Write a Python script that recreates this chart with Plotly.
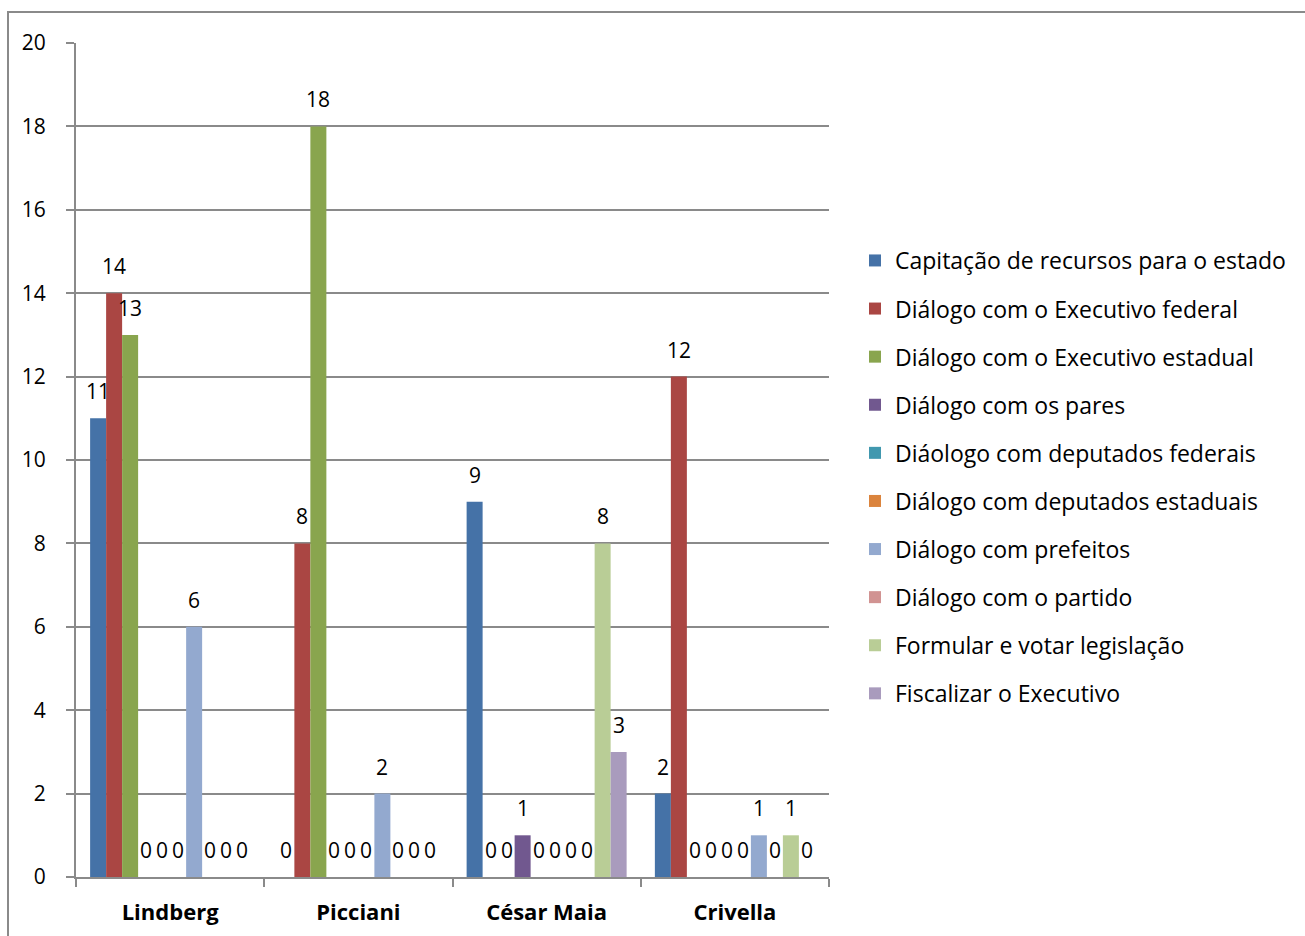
import plotly.graph_objects as go

# Candidates (categories on the x axis)
candidates = ["Lindberg", "Picciani", "César Maia", "Crivella"]

# One series per activity, values per candidate in the order above
series_names = [
    "Capitação de recursos para o estado",
    "Diálogo com o Executivo federal",
    "Diálogo com o Executivo estadual",
    "Diálogo com os pares",
    "Diáologo com deputados federais",
    "Diálogo com deputados estaduais",
    "Diálogo com prefeitos",
    "Diálogo com o partido",
    "Formular e votar legislação",
    "Fiscalizar o Executivo",
]
capitacao = [11, 0, 9, 2]
exec_federal = [14, 8, 0, 12]
exec_estadual = [13, 18, 0, 0]
pares = [0, 0, 1, 0]
dep_federais = [0, 0, 0, 0]
dep_estaduais = [0, 0, 0, 0]
prefeitos = [6, 2, 0, 1]
partido = [0, 0, 0, 0]
legislacao = [0, 0, 8, 1]
fiscalizar = [0, 0, 3, 0]

series_values = [capitacao, exec_federal, exec_estadual, pares, dep_federais,
                 dep_estaduais, prefeitos, partido, legislacao, fiscalizar]

colors = ["#4572A7", "#AA4643", "#89A54E", "#71588F", "#4198AF",
          "#DB843D", "#93A9CF", "#D19392", "#B9CD96", "#A99BBD"]

y_ticks = [0, 2, 4, 6, 8, 10, 12, 14, 16, 18, 20]

FONT = "Open Sans"
FS = 21
BAR_GAP = 0.15
GRID = "#8a8a8a"

fig = go.Figure()
for i, (name, vals) in enumerate(zip(series_names, series_values)):
    fig.add_trace(go.Bar(
        x=candidates, y=vals, name=name,
        marker=dict(color=colors[i], line=dict(width=0)),
        legendgroup=f"g{i}",
    ))

# Value labels above each bar (grouped-bar offsets from the same bar gap)
n = len(series_values)
bar_w = (1 - BAR_GAP) / n
annotations = []
for j, vals in enumerate(series_values):
    for ci, v in enumerate(vals):
        annotations.append(dict(
            x=ci - (1 - BAR_GAP) / 2 + bar_w * (j + 0.5), xref="x",
            y=v, yref="y", text=str(v), showarrow=False,
            yanchor="middle", yshift=27,
            font=dict(family=FONT, size=FS, color="black"),
        ))

# Outer chart frame
shapes = [dict(type="rect", xref="paper", yref="paper",
               x0=(8 - 76) / 753, x1=1.8, y0=-0.3, y1=(877 - 12) / 834,
               line=dict(color=GRID, width=2), fillcolor="rgba(0,0,0,0)",
               layer="below")]

fig.update_layout(
    width=1305, height=936,
    margin=dict(l=76, r=476, t=43, b=59, autoexpand=False),
    paper_bgcolor="white", plot_bgcolor="white",
    barmode="group", bargap=BAR_GAP, bargroupgap=0,
    font=dict(family=FONT, size=FS, color="black"),
    showlegend=True,
    legend=dict(
        xref="container", yref="container",
        x=855 / 1305, y=1 - 239 / 936, xanchor="left", yanchor="top",
        font=dict(family=FONT, size=23, color="black"),
        tracegroupgap=15.2, itemclick=False, maxheight=800,
        bgcolor="rgba(0,0,0,0)",
    ),
    annotations=annotations,
    shapes=shapes,
    xaxis=dict(
        type="category", tickson="boundaries", ticks="outside", ticklen=8,
        tickcolor=GRID, tickwidth=2, showline=True, linecolor=GRID, linewidth=2,
        showgrid=False, ticklabelstandoff=15, automargin=False,
        tickfont=dict(family=FONT, size=22, color="black", weight="bold"),
    ),
    yaxis=dict(
        range=[0, 20], tickvals=y_ticks, ticks="outside", ticklen=8,
        tickcolor=GRID, tickwidth=2, showline=True, linecolor=GRID, linewidth=2,
        showgrid=True, gridcolor=GRID, gridwidth=2, zeroline=False,
        ticklabelstandoff=16, automargin=False,
        tickfont=dict(family=FONT, size=FS, color="black"),
    ),
)

fig.write_html("out.html")
